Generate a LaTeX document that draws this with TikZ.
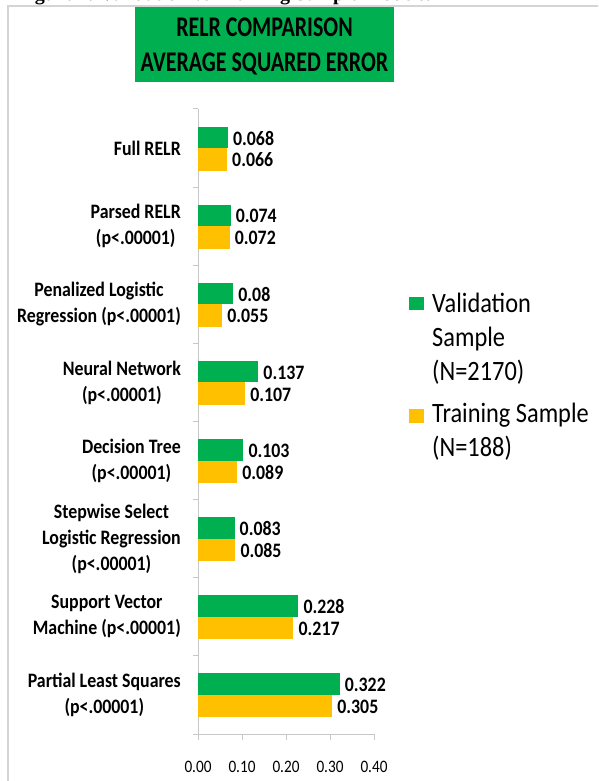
\documentclass[tikz,border=0pt]{standalone}
\usepackage{fontspec}
\setmainfont{Carlito}
\newfontfamily\cf[FakeStretch=0.87]{Carlito}
\newfontfamily\tf[FakeStretch=0.77]{Carlito}
\newfontfamily\tnr{Liberation Serif}
\definecolor{xgreen}{HTML}{00B050}
\definecolor{xyellow}{HTML}{FFC000}
\definecolor{axisgray}{HTML}{C8C8C8}
\definecolor{framegray}{HTML}{D4D4D4}
\tikzset{
  catlabel/.style={anchor=east, align=center, inner sep=0pt, font=\cf\bfseries\fontsize{20.5}{26}\selectfont},
  vallabel/.style={anchor=west, inner sep=0pt, font=\cf\bfseries\fontsize{20.5}{22}\selectfont},
  ticklabel/.style={anchor=center, inner sep=0pt, font=\cf\fontsize{17.5}{20}\selectfont},
  legtext/.style={anchor=base west, align=left, inner sep=0pt, font=\cf\fontsize{28}{34}\selectfont},
  axisline/.style={draw=axisgray, line width=1pt},
}
\begin{document}
\begin{tikzpicture}[x=1pt,y=-1pt]
\useasboundingbox (0,0) rectangle (598,781);
\clip (0,0) rectangle (598,781);
\fill[white] (0,0) rectangle (598,781);
% clipped caption line at top
\node[anchor=base west, inner sep=0pt, font=\tnr\bfseries\fontsize{20}{24}\selectfont] (cap) at (17,1) {Figure 4. Validation vs Training Sample Models.};
% frame
\draw[framegray, line width=1.2pt] (8,790) -- (8,6) -- (610,6);
% title
\node[fill=xgreen, minimum width=259pt, minimum height=75pt, inner sep=0pt, anchor=north west] (title) at (135,7) {};
\node[anchor=base, inner sep=0pt, font=\tf\bfseries\fontsize{28.5}{35}\selectfont] (t1) at (264.5,36.7) {RELR COMPARISON};
\node[anchor=base, inner sep=0pt, font=\tf\bfseries\fontsize{28.5}{35}\selectfont] (t2) at (264.5,71.7) {AVERAGE SQUARED ERROR};
% axes
\coordinate (o) at (198,734);
\coordinate (ytop) at (198,109);
\coordinate (xend) at (374,734);
\draw[axisline] (ytop) -- (o) -- (xend);
\foreach \k in {0,...,8}{
  \draw[axisline] (193,109+78.125*\k) -- (198,109+78.125*\k);
}
\foreach \k/\l in {0/0.00,1/0.10,2/0.20,3/0.30,4/0.40}{
  \draw[axisline] (198+44*\k,734) -- (198+44*\k,740);
  \node[ticklabel] (tick\k) at (198+44*\k,767) {\l};
}
% bars
\foreach \i/\lab/\g/\gl/\t/\tl in {
  0/{Full RELR}/0.068/0.068/0.066/0.066,
  1/{Parsed RELR\\(p<.00001)}/0.074/0.074/0.072/0.072,
  2/{Penalized Logistic\\Regression (p<.00001)}/0.08/0.08/0.055/0.055,
  3/{Neural Network\\(p<.00001)}/0.137/0.137/0.107/0.107,
  4/{Decision Tree\\(p<.00001)}/0.103/0.103/0.089/0.089,
  5/{Stepwise Select\\Logistic Regression\\(p<.00001)}/0.083/0.083/0.085/0.085,
  6/{Support Vector\\Machine (p<.00001)}/0.228/0.228/0.217/0.217,
  7/{Partial Least Squares\\(p<.00001)}/0.322/0.322/0.305/0.305}{
  \pgfmathsetmacro{\c}{109+78.125*(\i+0.5)}
  \pgfmathsetmacro{\gx}{198+440*\g}
  \pgfmathsetmacro{\tx}{198+440*\t}
  \fill[xgreen] (198,\c-21.5) rectangle (\gx,\c);
  \fill[xyellow] (198,\c) rectangle (\tx,\c+22.5);
  \node[catlabel] (cat\i) at (181,\c) {\lab};
  \node[vallabel] (gv\i) at (\gx+5,\c-10) {\gl};
  \node[vallabel] (tv\i) at (\tx+5,\c+12) {\tl};
}
% legend
\fill[xgreen] (409,297) rectangle (424,310);
\node[legtext] (leg1) at (432,380) {Validation\\Sample\\(N=2170)};
\fill[xyellow] (409,409) rectangle (424,423);
\node[legtext] (leg2) at (432,456) {Training Sample\\(N=188)};
\end{tikzpicture}
\end{document}
